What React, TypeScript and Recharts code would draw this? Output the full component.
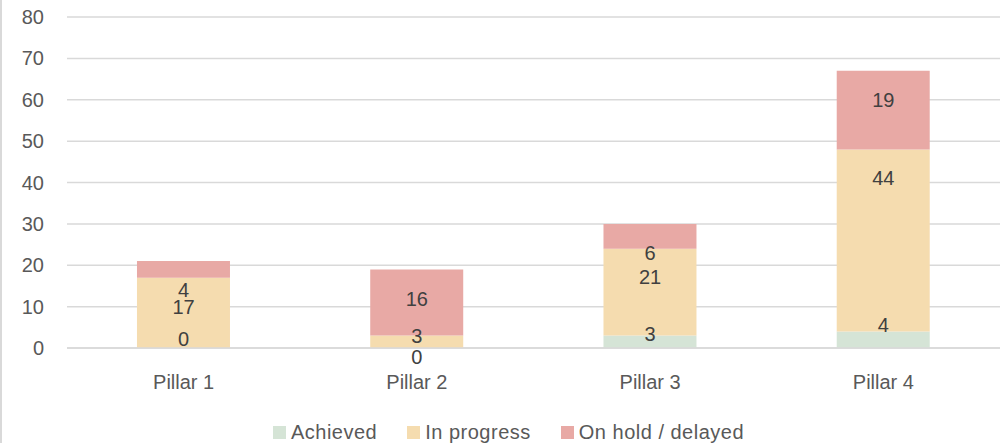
import {
  ComposedChart,
  Bar,
  Line,
  XAxis,
  YAxis,
  CartesianGrid,
  Legend,
  LabelList,
} from 'recharts';

const pillars = ['Pillar 1', 'Pillar 2', 'Pillar 3', 'Pillar 4'];
const achieved = [0, 0, 3, 4];
const inProgress = [17, 3, 21, 44];
const onHold = [4, 16, 6, 19];

// where Excel left each data label, read in axis units
const achievedLabelAt = [2.1, -2.1, 3.5, 5.6];
const inProgressLabelAt = [10, 2.9, 17.1, 41.1];
const onHoldLabelAt = [13.9, 11.8, 23, 59.9];

const yTicks = [0, 10, 20, 30, 40, 50, 60, 70, 80];

const series = [
  { key: 'achieved', name: 'Achieved', color: '#D5E4D6' },
  { key: 'inProgress', name: 'In progress', color: '#F5DCAF' },
  { key: 'onHold', name: 'On hold / delayed', color: '#E8A9A5' },
];

const data = pillars.map((p, i) => ({
  name: p,
  achieved: achieved[i],
  inProgress: inProgress[i],
  onHold: onHold[i],
  achievedAt: achievedLabelAt[i],
  inProgressAt: inProgressLabelAt[i],
  onHoldAt: onHoldLabelAt[i],
}));

const font = "'Liberation Sans', Arial, sans-serif";

const ValueLabel = (props: any) => {
  const { x, y, value } = props;
  return (
    <text x={x} y={y} textAnchor='middle' dominantBaseline='central' fill='#404040' fontSize={20} fontFamily={font}>
      {value}
    </text>
  );
};

const LegendBox = () => (
  <div style={{ height: 30, paddingTop: 8, boxSizing: 'border-box', display: 'flex', justifyContent: 'center', paddingLeft: 46 }}>
    {series.map((s) => (
      <div key={s.key} style={{ display: 'flex', alignItems: 'center', marginRight: 30, height: 22 }}>
        <span style={{ width: 13, height: 13, background: s.color, marginRight: 5, display: 'inline-block' }} />
        <span style={{ fontSize: 20, color: '#595959', fontFamily: font, lineHeight: '22px', letterSpacing: 0.5 }}>{s.name}</span>
      </div>
    ))}
  </div>
);

export default function App() {
  return (
    <div style={{ position: 'absolute', left: 0, top: 0, width: 1001, height: 443, background: '#fff', fontFamily: font }}>
      <div style={{ position: 'absolute', left: 0, top: 0, width: 2, height: 443, background: '#D9D9D9' }} />
      <ComposedChart width={1001} height={443} data={data} margin={{ top: 17, right: 1, bottom: 0, left: 0 }} barCategoryGap='30%'>
        <CartesianGrid vertical={false} stroke='#D9D9D9' strokeWidth={1.5} />
        <XAxis
          dataKey='name'
          axisLine={{ stroke: '#D9D9D9', strokeWidth: 1.5 }}
          tickLine={false}
          tickSize={0}
          tickMargin={27}
          height={65}
          tick={{ fill: '#595959', fontSize: 20, fontFamily: font }}
        />
        <YAxis
          domain={[0, 80]}
          ticks={yTicks}
          allowDataOverflow
          axisLine={false}
          tickLine={false}
          tickSize={0}
          tickMargin={23}
          width={67}
          tick={{ fill: '#595959', fontSize: 20, fontFamily: font }}
        />
        <Legend verticalAlign='bottom' content={<LegendBox />} wrapperStyle={{ bottom: 0, left: 0, width: 1001 }} />
        {series.map((s) => (
          <Bar key={s.key} dataKey={s.key} name={s.name} stackId='a' fill={s.color} isAnimationActive={false} />
        ))}
        {series.map((s) => (
          <Line
            key={s.key + 'Lbl'}
            dataKey={s.key + 'At'}
            stroke='none'
            dot={false}
            activeDot={false}
            legendType='none'
            isAnimationActive={false}
          >
            <LabelList dataKey={s.key} content={<ValueLabel />} />
          </Line>
        ))}
      </ComposedChart>
    </div>
  );
}
